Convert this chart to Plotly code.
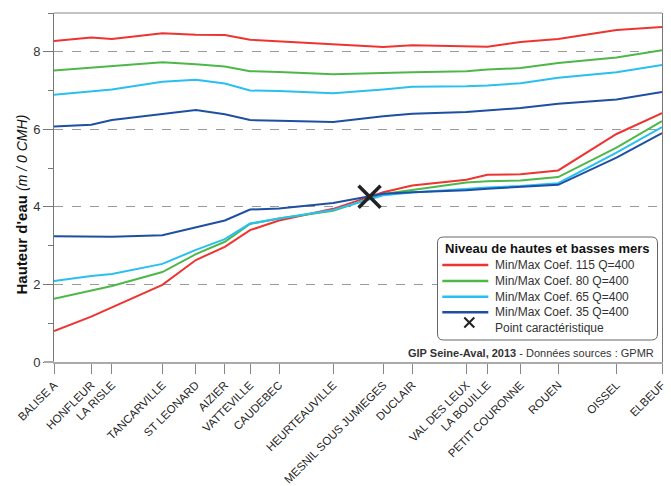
import plotly.graph_objects as go

stations = ["BALISE A", "HONFLEUR", "LA RISLE", "TANCARVILLE", "ST LEONARD", "AIZIER",
            "VATTEVILLE", "CAUDEBEC", "HEURTEAUVILLE", "MESNIL SOUS JUMIEGES", "DUCLAIR",
            "VAL DES LEUX", "LA BOUILLE", "PETIT COURONNE", "ROUEN", "OISSEL", "ELBEUF"]
distance_km = [0, 9.0, 14.0, 26.2, 34.3, 41.3, 47.4, 54.4, 67.5, 79.6, 86.6,
               99.7, 104.8, 112.8, 121.9, 136.0, 147.0]

max_115 = [8.28, 8.37, 8.33, 8.48, 8.44, 8.43, 8.31, 8.27, 8.20, 8.12, 8.17, 8.13, 8.13, 8.25, 8.33, 8.56, 8.64]
min_115 = [0.80, 1.17, 1.41, 1.99, 2.63, 2.97, 3.40, 3.65, 3.95, 4.38, 4.55, 4.70, 4.83, 4.84, 4.94, 5.88, 6.42]
max_80 = [7.52, 7.59, 7.62, 7.73, 7.68, 7.62, 7.50, 7.48, 7.42, 7.44, 7.47, 7.50, 7.54, 7.58, 7.71, 7.85, 8.04]
min_80 = [1.63, 1.85, 1.96, 2.32, 2.78, 3.10, 3.56, 3.70, 3.90, 4.33, 4.44, 4.63, 4.66, 4.68, 4.77, 5.53, 6.21]
max_65 = [6.89, 6.97, 7.03, 7.23, 7.28, 7.18, 7.00, 6.99, 6.93, 7.03, 7.10, 7.11, 7.13, 7.19, 7.33, 7.47, 7.66]
min_65 = [2.09, 2.22, 2.27, 2.53, 2.89, 3.17, 3.57, 3.70, 3.92, 4.30, 4.37, 4.47, 4.50, 4.54, 4.61, 5.40, 6.06]
max_35 = [6.07, 6.12, 6.24, 6.39, 6.50, 6.39, 6.24, 6.22, 6.19, 6.34, 6.40, 6.45, 6.49, 6.55, 6.66, 6.77, 6.96]
min_35 = [3.24, 3.24, 3.23, 3.27, 3.47, 3.65, 3.93, 3.96, 4.10, 4.34, 4.38, 4.43, 4.47, 4.51, 4.57, 5.27, 5.90]

point_x = [76.3]
point_y = [4.26]

series_names = ["Min/Max Coef. 115 Q=400", "Min/Max Coef. 80 Q=400",
                "Min/Max Coef. 65 Q=400", "Min/Max Coef. 35 Q=400"]
series_max = [max_115, max_80, max_65, max_35]
series_min = [min_115, min_80, min_65, min_35]
series_colors = ["#EE3431", "#4DB848", "#29BFF0", "#1F4FA3"]
point_name = "Point caractéristique"
legend_title = "Niveau de hautes et basses mers"

FONT = "Liberation Sans, Arial, sans-serif"
fig = go.Figure()
for name, mx, mn, col in zip(series_names, series_max, series_min, series_colors):
    fig.add_trace(go.Scatter(
        x=distance_km + [None] + distance_km,
        y=mx + [None] + mn,
        mode="lines", name=name,
        line=dict(color=col, width=2),
        connectgaps=False, showlegend=False,
    ))

fig.add_trace(go.Scatter(
    x=point_x, y=point_y, mode="markers", name=point_name, showlegend=False,
    marker=dict(symbol="x-thin", size=22, line=dict(color="#222222", width=3.5), color="#222222"),
))

W, H = 671, 486
L, R, T, B = 54, 9, 13, 124
pw, ph = W - L - R, H - T - B


def px_x(p):
    return (p - L) / pw


def px_y(p):
    return (H - B - p) / ph


# rounded legend box
x0, x1 = px_x(437.5), px_x(657.5)
y0, y1 = px_y(340), px_y(237)
rx, ry = 6 / pw, 6 / ph
path = (f"M {x0+rx},{y0} L {x1-rx},{y0} Q {x1},{y0} {x1},{y0+ry} "
        f"L {x1},{y1-ry} Q {x1},{y1} {x1-rx},{y1} L {x0+rx},{y1} "
        f"Q {x0},{y1} {x0},{y1-ry} L {x0},{y0+ry} Q {x0},{y0} {x0+rx},{y0} Z")
fig.add_shape(type="path", path=path, xref="paper", yref="paper",
              line=dict(color="#666666", width=1), fillcolor="white", layer="above")

fig.add_annotation(x=px_x(443), y=px_y(248), xref="paper", yref="paper",
                   xanchor="left", yanchor="middle", showarrow=False,
                   text=f"<b>{legend_title}</b>",
                   font=dict(family=FONT, size=13, color="#111111"))

row_y = [265, 281, 296.7, 312.3]
for ry_, name, col in zip(row_y, series_names, series_colors):
    fig.add_shape(type="line", xref="paper", yref="paper",
                  x0=px_x(442.3), x1=px_x(488.3), y0=px_y(ry_), y1=px_y(ry_),
                  line=dict(color=col, width=2.5), layer="above")
    fig.add_annotation(x=px_x(493), y=px_y(ry_), xref="paper", yref="paper",
                       xanchor="left", yanchor="middle", showarrow=False, text=name,
                       font=dict(family=FONT, size=12, color="#333333"))

# legend X symbol
cx, cy, hs = 469.3, 322.5, 5
fig.add_shape(type="path", xref="paper", yref="paper", layer="above",
              path=(f"M {px_x(cx-hs)},{px_y(cy-hs)} L {px_x(cx+hs)},{px_y(cy+hs)} "
                    f"M {px_x(cx-hs)},{px_y(cy+hs)} L {px_x(cx+hs)},{px_y(cy-hs)}"),
              line=dict(color="#222222", width=2))
fig.add_annotation(x=px_x(493), y=px_y(328.3), xref="paper", yref="paper",
                   xanchor="left", yanchor="middle", showarrow=False, text=point_name,
                   font=dict(family=FONT, size=12, color="#333333"))

fig.add_annotation(
    x=px_x(656), y=px_y(353), xref="paper", yref="paper",
    xanchor="right", yanchor="middle", showarrow=False,
    text="<b>GIP Seine-Aval, 2013</b> - Données sources : GPMR",
    font=dict(family=FONT, size=11, color="#333333"),
)

# y-axis title
fig.add_annotation(
    x=px_x(20.5), y=px_y(205), xref="paper", yref="paper",
    xanchor="center", yanchor="middle", showarrow=False, textangle=-90,
    text="<b>Hauteur d'eau</b> <i><span style='font-size:14px'>(m / 0 CMH)</span></i>",
    font=dict(family=FONT, size=15, color="#111111"),
)

fig.update_layout(
    width=W, height=H,
    margin=dict(l=L, r=R, t=T, b=B, autoexpand=False),
    paper_bgcolor="white", plot_bgcolor="white",
    font=dict(family=FONT, color="#222222"),
    showlegend=False,
    xaxis=dict(
        range=[0, 147], tickmode="array", tickvals=distance_km, ticktext=stations,
        tickangle=-45, tickfont=dict(family=FONT, size=11.4, color="#222222"),
        ticks="outside", ticklen=10, tickcolor="#888888",
        showline=True, linecolor="#AAAAAA", linewidth=2, mirror=False,
        showgrid=False, zeroline=False,
    ),
    yaxis=dict(
        range=[0, 9], tickmode="array", tickvals=[0, 2, 4, 6, 8],
        tickfont=dict(family=FONT, size=13, color="#333333"),
        ticks="outside", ticklen=10, tickcolor="#777777",
        minor=dict(tickmode="array", tickvals=[1, 3, 5, 7, 9], ticks="outside",
                   ticklen=5, tickcolor="#777777", showgrid=False),
        showline=True, linecolor="#777777", linewidth=1, mirror=True,
        showgrid=True, gridcolor="#9A9A9A", griddash="dash", gridwidth=1,
        zeroline=False,
    ),
)

# top border
fig.add_shape(type="line", xref="paper", yref="paper", x0=0, x1=1, y0=1, y1=1,
              line=dict(color="#888888", width=1))
# x-axis line extends left past the y-axis
fig.add_shape(type="line", xref="paper", yref="paper", x0=px_x(44), x1=0, y0=0, y1=0,
              line=dict(color="#AAAAAA", width=2))

fig.write_html("out.html", config={"displayModeBar": False},
               post_script="document.body.style.margin='0px';")
